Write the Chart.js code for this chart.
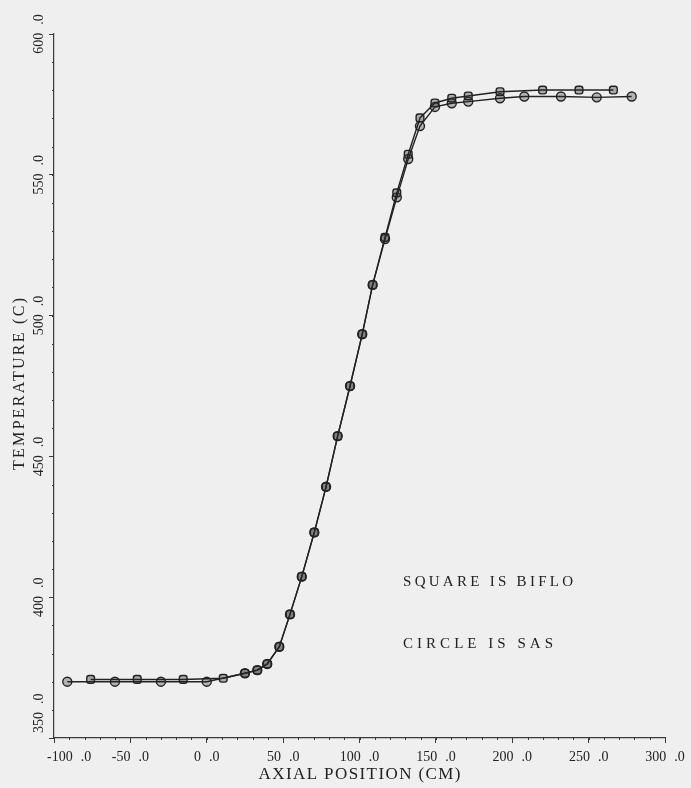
<!DOCTYPE html>
<html>
<head>
<meta charset="utf-8">
<script src="https://cdn.jsdelivr.net/npm/chart.js@4.4.1/dist/chart.umd.min.js"></script>
<style>
  html, body { margin: 0; padding: 0; background: #efefef; }
  #wrap { width: 691px; height: 788px; }
</style>
</head>
<body>
<div id="wrap"><canvas id="chart" width="691" height="788"></canvas></div>
<script>
// axis ticks
const xTicks = [-100, -50, 0, 50, 100, 150, 200, 250, 300];
const yTicks = [350, 400, 450, 500, 550, 600];

// SQUARE = BIFLO
const bifloX = [-76, -45.5, -15.4, 10.8, 25, 33.1, 39.6, 47.5, 54.5, 62.2, 70.4, 78.1, 85.7, 93.8, 101.8, 108.6, 116.7, 124.4, 131.9, 139.6, 149.4, 160.4, 171.2, 192, 219.9, 243.7, 266.2];
const bifloT = [370.8, 370.8, 370.8, 371.2, 373.0, 374.1, 376.3, 382.4, 393.9, 407.3, 423.0, 439.2, 457.2, 475.0, 493.4, 510.9, 527.8, 543.6, 557.3, 570.2, 575.5, 577.2, 578.0, 579.5, 580.1, 580.1, 580.1];

// CIRCLE = SAS
const sasX = [-91.3, -60.1, -30, 0, 25, 33.1, 39.6, 47.5, 54.5, 62.2, 70.4, 78.1, 85.7, 93.8, 101.8, 108.6, 116.7, 124.4, 131.9, 139.6, 149.4, 160.4, 171.2, 192, 207.9, 231.9, 255.3, 278.2];
const sasT = [370.0, 370.0, 370.0, 370.0, 373.0, 374.1, 376.3, 382.4, 393.9, 407.3, 423.0, 439.2, 457.2, 475.0, 493.4, 510.9, 527.2, 542.0, 555.6, 567.3, 574.1, 575.4, 576.0, 577.2, 577.8, 577.8, 577.5, 577.8];

const ink = '#222';
const serif = '"Liberation Serif", "DejaVu Serif", serif';

// draw text stretched to a given width (old plotter lettering is wide)
function drawSpaced(ctx, text, cx, cy, width) {
    ctx.letterSpacing = '0px';
    const w0 = ctx.measureText(text).width;
    const ls = text.length > 1 ? (width - w0) / (text.length - 1) : 0;
    ctx.letterSpacing = ls + 'px';
    ctx.textAlign = 'left';
    ctx.fillText(text, cx - width / 2, cy);
    ctx.letterSpacing = '0px';
}

// tick number like the plotter: "200  .0"
const tickGap = 8;
function tickWidth(ctx, v) {
    const parts = v.toFixed(1).split('.');
    return ctx.measureText(parts[0]).width + tickGap + ctx.measureText('.' + parts[1]).width;
}
function drawTick(ctx, v, cx, cy) {
    const parts = v.toFixed(1).split('.');
    const w = tickWidth(ctx, v);
    ctx.textAlign = 'left';
    ctx.fillText(parts[0], cx - w / 2, cy);
    ctx.textAlign = 'right';
    ctx.fillText('.' + parts[1], cx + w / 2, cy);
}

const plotText = {
    id: 'plotText',
    afterDraw(chart) {
        const { ctx, chartArea, scales } = chart;
        const xs = scales.x, ys = scales.y;
        ctx.save();
        ctx.fillStyle = ink;
        ctx.strokeStyle = '#3a3a3a';
        ctx.textBaseline = 'middle';

        // minor ticks
        ctx.lineWidth = 1;
        ctx.beginPath();
        for (let v = 350; v <= 600; v += 10) {
            const py = Math.round(ys.getPixelForValue(v)) + 0.5;
            ctx.moveTo(chartArea.left - 2, py);
            ctx.lineTo(chartArea.left, py);
        }
        for (let v = -100; v <= 300; v += 10) {
            const px = Math.round(xs.getPixelForValue(v)) + 0.5;
            ctx.moveTo(px, chartArea.bottom);
            ctx.lineTo(px, chartArea.bottom + 2);
        }
        ctx.stroke();

        // x tick labels
        ctx.font = '14px ' + serif;
        xTicks.forEach(v => {
            const w = tickWidth(ctx, v);
            let cx = xs.getPixelForValue(v);
            cx = Math.max(cx, chartArea.left - 7 + w / 2);
            drawTick(ctx, v, cx, chartArea.bottom + 19);
        });

        // y tick labels, rotated
        yTicks.forEach(v => {
            const w = tickWidth(ctx, v);
            let cy = ys.getPixelForValue(v);
            cy = Math.min(cy, chartArea.bottom - 5 - w / 2);
            ctx.save();
            ctx.translate(chartArea.left - 15, cy);
            ctx.rotate(-Math.PI / 2);
            drawTick(ctx, v, 0, 0);
            ctx.restore();
        });

        // axis titles
        ctx.font = '17px ' + serif;
        drawSpaced(ctx, 'AXIAL POSITION (CM)', (chartArea.left + chartArea.right) / 2, chartArea.bottom + 37, 202);
        ctx.save();
        ctx.translate(20, (chartArea.top + chartArea.bottom) / 2 - 2);
        ctx.rotate(-Math.PI / 2);
        ctx.font = '16px ' + serif;
        drawSpaced(ctx, 'TEMPERATURE (C)', 0, 0, 172);
        ctx.restore();

        // key text
        ctx.font = '15px ' + serif;
        const kx = xs.getPixelForValue(128.5);
        drawSpaced(ctx, 'SQUARE IS BIFLO', kx + 85, ys.getPixelForValue(405.4), 170);
        drawSpaced(ctx, 'CIRCLE IS SAS', kx + 75, ys.getPixelForValue(383.4), 150);

        ctx.restore();
    }
};

const ctx = document.getElementById('chart').getContext('2d');

new Chart(ctx, {
    type: 'scatter',
    data: {
        datasets: [
            {
                label: 'BIFLO',
                data: bifloX.map((x, i) => ({ x: x, y: bifloT[i] })),
                showLine: true,
                borderColor: ink,
                borderWidth: 1.4,
                pointStyle: 'rectRounded',
                pointRadius: 4.5,
                pointBorderWidth: 1.4,
                pointBorderColor: ink,
                pointBackgroundColor: 'rgba(40,40,40,0.35)'
            },
            {
                label: 'SAS',
                data: sasX.map((x, i) => ({ x: x, y: sasT[i] })),
                showLine: true,
                borderColor: ink,
                borderWidth: 1.4,
                pointStyle: 'circle',
                pointRadius: 4.5,
                pointBorderWidth: 1.4,
                pointBorderColor: ink,
                pointBackgroundColor: 'rgba(40,40,40,0.3)'
            }
        ]
    },
    options: {
        responsive: false,
        animation: false,
        layout: { padding: { left: 49, right: 26, top: 34, bottom: 45 } },
        plugins: {
            legend: { display: false },
            tooltip: { enabled: false }
        },
        scales: {
            x: {
                type: 'linear',
                min: -100,
                max: 300,
                ticks: { display: false, stepSize: 50 },
                grid: { drawOnChartArea: false, tickLength: 5, color: '#3a3a3a', lineWidth: 1 },
                border: { color: '#3a3a3a', width: 1.2 }
            },
            y: {
                type: 'linear',
                min: 350,
                max: 600,
                ticks: { display: false, stepSize: 50 },
                grid: { drawOnChartArea: false, tickLength: 5, color: '#3a3a3a', lineWidth: 1 },
                border: { color: '#3a3a3a', width: 1.2 }
            }
        }
    },
    plugins: [plotText]
});
</script>
</body>
</html>
